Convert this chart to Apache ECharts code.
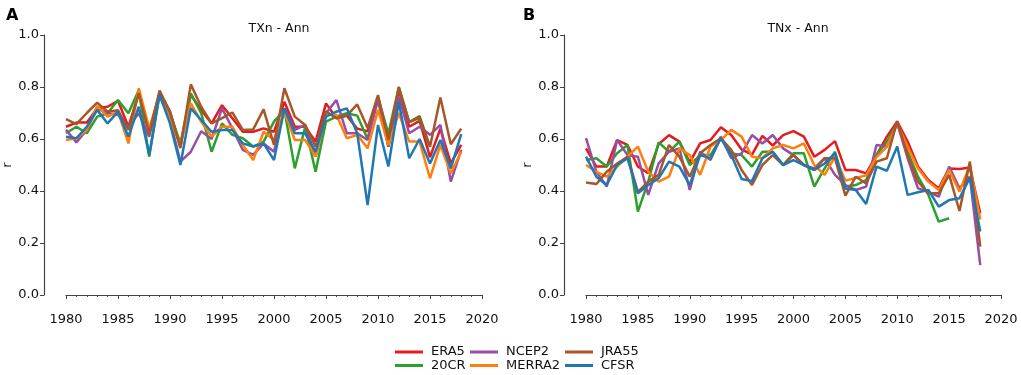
<!DOCTYPE html>
<html>
<head>
<meta charset="utf-8">
<script src="https://cdn.jsdelivr.net/npm/echarts@6/dist/echarts.min.js"></script>
<style>
  html, body { margin: 0; padding: 0; background: #fff; }
  #chart { width: 1021px; height: 375px; }
</style>
</head>
<body>
<div id="chart"></div>
<script>
// years 1980 - 2018
var years = [];
for (var y = 1980; y <= 2018; y++) years.push(y);

var xTicks = [1980, 1985, 1990, 1995, 2000, 2005, 2010, 2015, 2020];
var yTicks = [0.0, 0.2, 0.4, 0.6, 0.8, 1.0];

var names = ['ERA5', '20CR', 'NCEP2', 'MERRA2', 'JRA55', 'CFSR'];
var colors = ['#e41a1c', '#2ca02c', '#984ea3', '#ff7f0e', '#a65628', '#1f77b4'];

// panel A: TXn - Ann
var txnEra5 = [0.647, 0.663, 0.663, 0.718, 0.724, 0.747, 0.647, 0.776, 0.628, 0.776,
  0.705, 0.571, 0.77, 0.712, 0.66, 0.73, 0.68, 0.628, 0.628, 0.641,
  0.628, 0.743, 0.647, 0.647, 0.59, 0.737, 0.68, 0.69, 0.64, 0.63,
  0.76, 0.57, 0.79, 0.647, 0.67, 0.53, 0.64, 0.506, 0.577];
var txn20cr = [0.622, 0.647, 0.622, 0.686, 0.699, 0.75, 0.699, 0.788, 0.532, 0.776,
  0.699, 0.583, 0.776, 0.699, 0.551, 0.66, 0.616, 0.603, 0.571, 0.59,
  0.667, 0.712, 0.487, 0.647, 0.474, 0.667, 0.686, 0.699, 0.69, 0.6,
  0.76, 0.62, 0.80, 0.665, 0.68, 0.57];
var txnNcep2 = [0.635, 0.587, 0.635, 0.718, 0.699, 0.693, 0.647, 0.699, 0.609, 0.77,
  0.673, 0.513, 0.551, 0.63, 0.6, 0.718, 0.641, 0.558, 0.539, 0.583,
  0.551, 0.718, 0.635, 0.654, 0.532, 0.699, 0.75, 0.622, 0.622, 0.596,
  0.75, 0.571, 0.763, 0.622, 0.647, 0.616, 0.654, 0.436, 0.558];
var txnMerra2 = [0.596, 0.603, 0.635, 0.727, 0.686, 0.705, 0.583, 0.795, 0.641, 0.77,
  0.673, 0.577, 0.737, 0.667, 0.609, 0.647, 0.647, 0.577, 0.519, 0.628,
  0.596, 0.705, 0.596, 0.596, 0.532, 0.693, 0.693, 0.603, 0.616, 0.564,
  0.712, 0.576, 0.70, 0.59, 0.59, 0.449, 0.577, 0.468, 0.551];
var txnJra55 = [0.676, 0.657, 0.70, 0.74, 0.705, 0.711, 0.635, 0.776, 0.62, 0.786,
  0.705, 0.565, 0.81, 0.724, 0.66, 0.68, 0.702, 0.635, 0.637, 0.714,
  0.577, 0.795, 0.686, 0.654, 0.57, 0.707, 0.68, 0.69, 0.733, 0.642,
  0.769, 0.597, 0.80, 0.665, 0.688, 0.57, 0.76, 0.58, 0.64];
var txnCfsr = [0.609, 0.603, 0.647, 0.712, 0.66, 0.705, 0.609, 0.724, 0.539, 0.77,
  0.66, 0.50, 0.718, 0.673, 0.628, 0.635, 0.635, 0.583, 0.571, 0.583,
  0.519, 0.718, 0.622, 0.622, 0.551, 0.686, 0.705, 0.718, 0.622, 0.346,
  0.654, 0.494, 0.743, 0.526, 0.60, 0.506, 0.596, 0.487, 0.619];

// panel B: TNx - Ann
var tnxEra5 = [0.564, 0.494, 0.494, 0.596, 0.577, 0.494, 0.468, 0.58, 0.615, 0.59,
  0.51, 0.583, 0.596, 0.645, 0.615, 0.56, 0.54, 0.612, 0.575, 0.615,
  0.63, 0.609, 0.532, 0.558, 0.592, 0.481, 0.481, 0.468, 0.538, 0.609,
  0.667, 0.59, 0.494, 0.442, 0.41, 0.487, 0.485, 0.49, 0.314];
var tnx20cr = [0.519, 0.526, 0.494, 0.545, 0.577, 0.321, 0.436, 0.587, 0.551, 0.59,
  0.50, 0.538, 0.538, 0.603, 0.545, 0.538, 0.494, 0.551, 0.551, 0.50,
  0.545, 0.545, 0.417, 0.487, 0.551, 0.417, 0.423, 0.442, 0.538, 0.59,
  0.66, 0.551, 0.455, 0.385, 0.282, 0.295];
var tnxNcep2 = [0.603, 0.474, 0.417, 0.596, 0.538, 0.532, 0.385, 0.506, 0.551, 0.564,
  0.404, 0.551, 0.519, 0.609, 0.526, 0.545, 0.615, 0.583, 0.615, 0.564,
  0.538, 0.50, 0.487, 0.526, 0.462, 0.423, 0.404, 0.417, 0.577, 0.571,
  0.66, 0.526, 0.41, 0.397, 0.378, 0.494, 0.41, 0.455, 0.115];
var tnxMerra2 = [0.50, 0.474, 0.455, 0.494, 0.532, 0.571, 0.474, 0.436, 0.455, 0.564,
  0.538, 0.462, 0.571, 0.596, 0.635, 0.609, 0.532, 0.526, 0.564, 0.577,
  0.564, 0.583, 0.50, 0.462, 0.532, 0.44, 0.45, 0.46, 0.53, 0.57,
  0.66, 0.57, 0.487, 0.436, 0.404, 0.481, 0.397, 0.50, 0.29];
var tnxJra55 = [0.433, 0.427, 0.474, 0.506, 0.532, 0.397, 0.436, 0.462, 0.577, 0.532,
  0.455, 0.545, 0.577, 0.603, 0.558, 0.481, 0.423, 0.50, 0.538, 0.50,
  0.538, 0.50, 0.481, 0.526, 0.526, 0.382, 0.455, 0.429, 0.513, 0.526,
  0.669, 0.538, 0.436, 0.391, 0.391, 0.462, 0.323, 0.513, 0.186];
var tnxCfsr = [0.532, 0.455, 0.423, 0.50, 0.526, 0.391, 0.423, 0.449, 0.513, 0.494,
  0.423, 0.538, 0.526, 0.603, 0.538, 0.446, 0.438, 0.526, 0.551, 0.50,
  0.519, 0.50, 0.481, 0.506, 0.545, 0.41, 0.404, 0.35, 0.494, 0.478,
  0.571, 0.385, 0.395, 0.404, 0.34, 0.365, 0.372, 0.451, 0.244];

var panelA = [txnEra5, txn20cr, txnNcep2, txnMerra2, txnJra55, txnCfsr];
var panelB = [tnxEra5, tnx20cr, tnxNcep2, tnxMerra2, tnxJra55, tnxCfsr];

var font = 'DejaVu Sans';
var axisColor = '#444';

function pairs(vals) {
  return vals.map(function (v, i) { return [years[i], v]; });
}

function xAxisFor(idx) {
  return {
    type: 'value', gridIndex: idx, min: 1980, max: 2020, interval: 5, offset: 12,
    axisLine: { show: true, lineStyle: { color: axisColor, width: 1.2 } },
    axisTick: { show: true, length: 4, lineStyle: { color: axisColor } },
    minorTick: { show: true, splitNumber: 5, length: 2, lineStyle: { color: axisColor } },
    splitLine: { show: false },
    axisLabel: {
      color: '#111', fontFamily: font, fontSize: 13, margin: 6,
      formatter: function (v) { return String(v); }
    }
  };
}

function yAxisFor(idx) {
  return {
    type: 'value', gridIndex: idx, min: 0, max: 1, interval: 0.2, offset: 22,
    name: 'r', nameLocation: 'middle', nameGap: 30, nameRotate: 90,
    nameMoveOverlap: false,
    nameTextStyle: { color: '#111', fontFamily: font, fontSize: 13 },
    axisLine: { show: true, lineStyle: { color: axisColor, width: 1.2 } },
    axisTick: { show: true, length: 4, lineStyle: { color: axisColor } },
    splitLine: { show: false },
    axisLabel: {
      color: '#111', fontFamily: font, fontSize: 13, margin: 5,
      formatter: function (v) { return v.toFixed(1); }
    }
  };
}

var series = [];
[panelA, panelB].forEach(function (panel, p) {
  panel.forEach(function (vals, i) {
    series.push({
      name: names[i], type: 'line', xAxisIndex: p, yAxisIndex: p,
      data: pairs(vals), showSymbol: false, symbol: 'none', clip: false,
      lineStyle: { color: colors[i], width: 2.5 },
      itemStyle: { color: colors[i] },
      emphasis: { disabled: true }, animation: false
    });
  });
});

function legendFor(left, items) {
  return {
    orient: 'vertical', left: left, top: 345.5, padding: 0, icon: 'rect',
    itemWidth: 28, itemHeight: 3, itemGap: 0.5, height: 30,
    data: items,
    textStyle: { color: '#111', fontFamily: font, fontSize: 13, lineHeight: 13, padding: [0, 0, 0, 3] }
  };
}

var option = {
  animation: false,
  title: [
    { text: 'A', left: 1, top: 3, textStyle: { fontFamily: font, fontSize: 16, fontWeight: 'bold', color: '#000' } },
    { text: 'B', left: 518, top: 3, textStyle: { fontFamily: font, fontSize: 16, fontWeight: 'bold', color: '#000' } },
    { text: 'TXn - Ann', left: 274, top: 17, textAlign: 'center', textStyle: { fontFamily: font, fontSize: 12.5, fontWeight: 'normal', color: '#111' } },
    { text: 'TNx - Ann', left: 793, top: 17, textAlign: 'center', textStyle: { fontFamily: font, fontSize: 12.5, fontWeight: 'normal', color: '#111' } }
  ],
  legend: [
    legendFor(395, ['ERA5', '20CR']),
    legendFor(470, ['NCEP2', 'MERRA2']),
    legendFor(565, ['JRA55', 'CFSR'])
  ],
  grid: [
    { left: 66, right: 539, top: 35, bottom: 80 },
    { left: 586, right: 20, top: 35, bottom: 80 }
  ],
  xAxis: [xAxisFor(0), xAxisFor(1)],
  yAxis: [yAxisFor(0), yAxisFor(1)],
  series: series
};

var myChart = echarts.init(document.getElementById('chart'));
myChart.setOption(option);
window.addEventListener('resize', myChart.resize);
</script>
</body>
</html>
